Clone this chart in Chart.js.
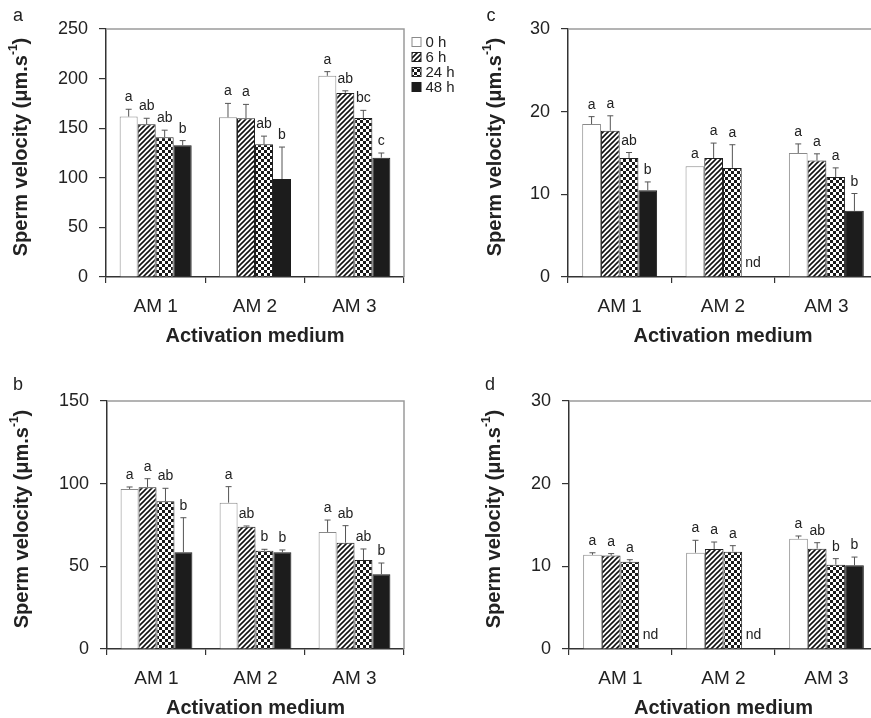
<!DOCTYPE html>
<html>
<head>
<meta charset="utf-8">
<script src="https://cdn.jsdelivr.net/npm/chart.js@4.4.1/dist/chart.umd.min.js"></script>
<style>
html,body{margin:0;padding:0;background:#fff;width:871px;height:718px;overflow:hidden;position:relative}
canvas{position:absolute}
</style>
</head>
<body>
<canvas id="pa" width="480" height="370" style="left:0;top:0"></canvas>
<canvas id="pc" width="470" height="370" style="left:440px;top:0"></canvas>
<canvas id="pb" width="480" height="370" style="left:0;top:360px"></canvas>
<canvas id="pd" width="470" height="370" style="left:440px;top:360px"></canvas>
<script>
const categories = ['AM 1', 'AM 2', 'AM 3'];
const seriesNames = ['0 h', '6 h', '24 h', '48 h'];

// panel a
const velA_0h = [161.7, 161.0, 202.8];
const velA_6h = [154.0, 160.0, 185.6];
const velA_24h = [141.0, 133.8, 160.4];
const velA_48h = [132.7, 98.7, 120.3];
const seA_0h = [7.4, 14.0, 4.2];
const seA_6h = [6.0, 14.0, 2.1];
const seA_24h = [7.0, 8.2, 7.6];
const seA_48h = [4.8, 32.3, 4.7];
const lettersA = [['a','ab','ab','b'], ['a','a','ab','b'], ['a','ab','bc','c']];

// panel b
const velB_0h = [96.8, 88.5, 70.8];
const velB_6h = [97.8, 74.0, 64.3];
const velB_24h = [89.3, 59.5, 53.8];
const velB_48h = [58.5, 58.5, 45.2];
const seB_0h = [1.2, 9.7, 7.2];
const seB_6h = [5.2, 0.4, 10.3];
const seB_24h = [7.9, 0.8, 6.7];
const seB_48h = [20.9, 1.4, 6.8];
const lettersB = [['a','a','ab','b'], ['a','ab','b','b'], ['a','ab','ab','b']];

// panel c
const velC_0h = [18.5, 13.4, 15.0];
const velC_6h = [17.7, 14.4, 14.1];
const velC_24h = [14.4, 13.2, 12.1];
const velC_48h = [10.5, null, 8.0];
const seC_0h = [0.9, 0, 1.1];
const seC_6h = [1.8, 1.8, 0.8];
const seC_24h = [0.66, 2.8, 1.1];
const seC_48h = [1.0, null, 2.1];
const lettersC = [['a','a','ab','b'], ['a','a','a','nd'], ['a','a','a','b']];

// panel d
const velD_0h = [11.4, 11.65, 13.35];
const velD_6h = [11.3, 12.1, 12.14];
const velD_24h = [10.56, 11.77, 10.2];
const velD_48h = [null, null, 10.12];
const seD_0h = [0.24, 1.5, 0.32];
const seD_6h = [0.24, 0.84, 0.72];
const seD_24h = [0.24, 0.73, 0.73];
const seD_48h = [null, null, 1.0];
const lettersD = [['a','a','a','nd'], ['a','a','a','nd'], ['a','ab','b','b']];

const FONT = "'Liberation Sans', Arial, Helvetica, sans-serif";
const INK = '#222';

function hatch(){
  const c = document.createElement('canvas'); c.width = 5; c.height = 5;
  const g = c.getContext('2d');
  g.fillStyle = '#fff'; g.fillRect(0,0,5,5);
  g.strokeStyle = '#111'; g.lineWidth = 1.6;
  g.beginPath();
  g.moveTo(0,5); g.lineTo(5,0);
  g.moveTo(-1,1); g.lineTo(1,-1);
  g.moveTo(4,6); g.lineTo(6,4);
  g.stroke();
  return g.createPattern(c, 'repeat');
}
function checker(){
  const c = document.createElement('canvas'); c.width = 6; c.height = 6;
  const g = c.getContext('2d');
  g.fillStyle = '#fff'; g.fillRect(0,0,6,6);
  g.fillStyle = '#1a1a1a'; g.fillRect(0,0,3,3); g.fillRect(3,3,3,3);
  return g.createPattern(c, 'repeat');
}
const fills = ['#ffffff', hatch(), checker(), '#1c1c1c'];
const borders = ['#8a8a8a', '#222', '#222', '#1c1c1c'];

const decor = {
  id: 'decor',
  afterDatasetsDraw(chart, args, o){
    const ctx = chart.ctx, ca = chart.chartArea, ys = chart.scales.y, xs = chart.scales.x;
    ctx.save();
    ctx.strokeStyle = '#9a9a9a'; ctx.lineWidth = 1.5;
    ctx.beginPath(); ctx.moveTo(ca.left, ca.top); ctx.lineTo(ca.right, ca.top); ctx.lineTo(ca.right, ca.bottom); ctx.stroke();

    const bw = (xs.width / categories.length) * 0.725 / 4;
    ctx.font = '14px ' + FONT; ctx.fillStyle = INK; ctx.textAlign = 'center';
    chart.data.datasets.forEach((ds, i) => {
      ds.data.forEach((v, j) => {
        const x = xs.getPixelForValue(j) + (i - 1.5) * bw;
        const lab = o.letters[j][i];
        if (v == null){
          ctx.textBaseline = 'middle';
          ctx.fillText(lab, x + 2, ca.bottom - 14);
          return;
        }
        const yb = ys.getPixelForValue(v);
        const yt = ys.getPixelForValue(v + ds.se[j]);
        if (yb - yt > 0.5){
          ctx.strokeStyle = '#555'; ctx.lineWidth = 1;
          ctx.beginPath();
          ctx.moveTo(x, yb); ctx.lineTo(x, yt);
          ctx.moveTo(x - 3, yt); ctx.lineTo(x + 3, yt);
          ctx.stroke();
        }
        ctx.textBaseline = 'alphabetic';
        ctx.fillText(lab, x, yt - 8);
      });
    });
    ctx.restore();
  },
  afterDraw(chart, args, o){
    const ctx = chart.ctx, ca = chart.chartArea;
    ctx.save();
    ctx.fillStyle = INK;
    // panel letter
    ctx.font = '18px ' + FONT; ctx.textAlign = 'center'; ctx.textBaseline = 'middle';
    ctx.fillText(o.panel, o.panelX, o.panelY);
    // y title
    const cy = (ca.top + ca.bottom) / 2 - 6;
    ctx.translate(o.titleX, cy); ctx.rotate(-Math.PI / 2);
    const main = 'Sperm velocity (μm.s', sup = '-1', close = ')';
    const fMain = 'bold 20px ' + FONT, fSup = 'bold 12px ' + FONT;
    ctx.font = fMain; const w1 = ctx.measureText(main).width, w3 = ctx.measureText(close).width;
    ctx.font = fSup; const w2 = ctx.measureText(sup).width;
    let x0 = -(w1 + w2 + w3) / 2;
    ctx.textAlign = 'left'; ctx.textBaseline = 'middle';
    ctx.font = fMain; ctx.fillText(main, x0, 0);
    ctx.font = fSup; ctx.fillText(sup, x0 + w1, -7);
    ctx.font = fMain; ctx.fillText(close, x0 + w1 + w2, 0);
    ctx.setTransform(1,0,0,1,0,0);
    // legend
    if (o.legend){
      ctx.font = '15px ' + FONT; ctx.textAlign = 'left'; ctx.textBaseline = 'middle';
      seriesNames.forEach((n, i) => {
        const cyL = 42 + i * 15;
        ctx.fillStyle = fills[i]; ctx.fillRect(412, cyL - 4.5, 9, 9);
        ctx.strokeStyle = borders[i]; ctx.lineWidth = 1; ctx.strokeRect(412, cyL - 4.5, 9, 9);
        ctx.fillStyle = INK; ctx.fillText(n, 425.5, cyL + 1);
      });
    }
    ctx.restore();
  }
};

function makePanel(id, p){
  const datasets = p.vals.map((d, i) => ({
    label: seriesNames[i], data: d, se: p.se[i],
    backgroundColor: fills[i], borderColor: borders[i], borderWidth: 1,
    categoryPercentage: 0.725, barPercentage: 1.0
  }));
  new Chart(document.getElementById(id), {
    type: 'bar',
    data: { labels: categories, datasets },
    plugins: [decor],
    options: {
      responsive: false, animation: false, devicePixelRatio: 1,
      layout: { padding: { top: p.top, bottom: p.bottom, left: 0, right: p.right } },
      plugins: {
        legend: { display: false }, tooltip: { enabled: false },
        decor: { letters: p.letters, panel: p.panel, panelX: p.panelX, panelY: p.panelY, titleX: p.titleX, legend: p.legend }
      },
      scales: {
        x: {
          offset: true,
          grid: { offset: true, drawOnChartArea: false, drawTicks: true, tickLength: 6, color: '#333', lineWidth: 1.2 },
          border: { display: true, color: '#333', width: 1.5 },
          ticks: { font: { family: FONT, size: 19, lineHeight: 1.2 }, color: INK, padding: 12 },
          title: { display: true, text: 'Activation medium', color: INK, font: { family: FONT, size: 20, weight: 'bold', lineHeight: 1.2 }, padding: { top: 0, bottom: 0 } },
          afterFit: s => { s.height = 71; }
        },
        y: {
          min: 0, max: p.max,
          grid: { drawOnChartArea: false, drawTicks: true, tickLength: 7, color: '#333', lineWidth: 1.2 },
          border: { display: true, color: '#333', width: 1.5 },
          ticks: { stepSize: p.step, font: { family: FONT, size: 18 }, color: INK, padding: 11 },
          afterFit: s => { s.width = p.yw; }
        }
      }
    }
  });
}

makePanel('pa', { vals: [velA_0h, velA_6h, velA_24h, velA_48h], se: [seA_0h, seA_6h, seA_24h, seA_48h], letters: lettersA,
  max: 250, step: 50, top: 29, bottom: 22, right: 76, yw: 106, panel: 'a', panelX: 18, panelY: 16, titleX: 21, legend: true });
makePanel('pc', { vals: [velC_0h, velC_6h, velC_24h, velC_48h], se: [seC_0h, seC_6h, seC_24h, seC_48h], letters: lettersC,
  max: 30, step: 10, top: 29, bottom: 22, right: 32, yw: 128, panel: 'c', panelX: 51, panelY: 16, titleX: 55, legend: false });
makePanel('pb', { vals: [velB_0h, velB_6h, velB_24h, velB_48h], se: [seB_0h, seB_6h, seB_24h, seB_48h], letters: lettersB,
  max: 150, step: 50, top: 41, bottom: 10, right: 76, yw: 107, panel: 'b', panelX: 18, panelY: 25, titleX: 22, legend: false });
makePanel('pd', { vals: [velD_0h, velD_6h, velD_24h, velD_48h], se: [seD_0h, seD_6h, seD_24h, seD_48h], letters: lettersD,
  max: 30, step: 10, top: 41, bottom: 10, right: 32, yw: 129, panel: 'd', panelX: 50, panelY: 25, titleX: 54, legend: false });
</script>
</body>
</html>
